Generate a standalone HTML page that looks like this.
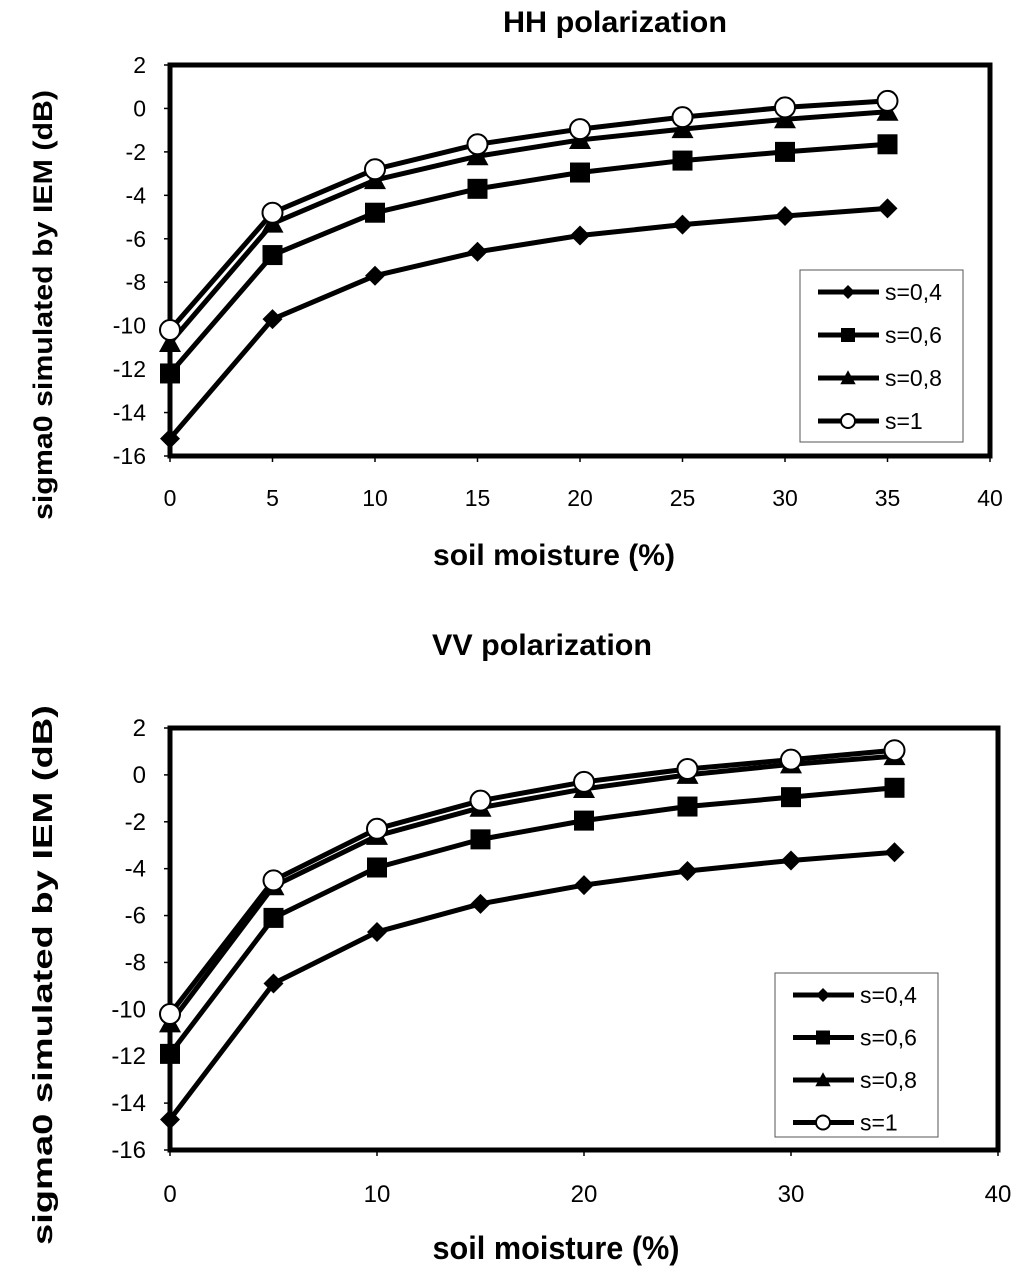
<!DOCTYPE html>
<html><head><meta charset="utf-8"><style>
body{margin:0;background:#fff;}
svg{display:block;font-family:"Liberation Sans",Arial,sans-serif;}
</style></head><body>
<svg id="svg" width="1024" height="1273" viewBox="0 0 1024 1273"></svg>
<script>
const xValues=[0,5,10,15,20,25,30,35];
const seriesNames=["s=0,4","s=0,6","s=0,8","s=1"];
const hhS04=[-15.2,-9.7,-7.7,-6.6,-5.85,-5.35,-4.95,-4.6];
const hhS06=[-12.2,-6.75,-4.8,-3.7,-2.95,-2.4,-2.0,-1.65];
const hhS08=[-10.8,-5.3,-3.3,-2.2,-1.45,-0.95,-0.5,-0.15];
const hhS1=[-10.2,-4.8,-2.8,-1.65,-0.95,-0.4,0.05,0.35];
const vvS04=[-14.7,-8.9,-6.7,-5.5,-4.7,-4.1,-3.65,-3.3];
const vvS06=[-11.9,-6.1,-3.95,-2.75,-1.95,-1.35,-0.95,-0.55];
const vvS08=[-10.6,-4.75,-2.6,-1.4,-0.6,0.0,0.45,0.8];
const vvS1=[-10.2,-4.5,-2.3,-1.1,-0.3,0.25,0.65,1.05];
const yTicks=[2,0,-2,-4,-6,-8,-10,-12,-14,-16];
const hhXTicks=[0,5,10,15,20,25,30,35,40];
const vvXTicks=[0,10,20,30,40];
const markers=["diamond","square","triangle","circle"];

const NS="http://www.w3.org/2000/svg";
const svg=document.getElementById('svg');
function mk(tag,attrs,parent,text){const e=document.createElementNS(NS,tag);for(const k in attrs)e.setAttribute(k,attrs[k]);if(text!==undefined)e.textContent=text;(parent||svg).appendChild(e);return e;}

function marker(g,type,x,y,s){
  let e;
  if(type==="diamond")e=mk('polygon',{points:`${x},${y-10*s} ${x+10*s},${y} ${x},${y+10*s} ${x-10*s},${y}`,fill:'#000'},g);
  else if(type==="square")e=mk('rect',{x:x-10*s,y:y-10*s,width:20*s,height:20*s,fill:'#000'},g);
  else if(type==="triangle")e=mk('polygon',{points:`${x},${y-11*s} ${x+11*s},${y+9*s} ${x-11*s},${y+9*s}`,fill:'#000'},g);
  else e=mk('circle',{cx:x,cy:y,r:10*s,fill:'#fff',stroke:'#000','stroke-width':2},g);
  
  
}

function chart(cfg){
  const g=mk('g',{});
  
  
  const sx=v=>cfg.x0+(v-0)/(40-0)*(cfg.x1-cfg.x0);
  const sy=v=>cfg.y0+(2-v)/(2-(-16))*(cfg.y1-cfg.y0);
  const t=mk('text',{x:cfg.titleX-cfg.titleW/2,y:cfg.titleY,'font-size':cfg.titleF,'font-weight':'bold',textLength:cfg.titleW,lengthAdjust:'spacingAndGlyphs'},g,cfg.title);
  
  const box=mk('rect',{x:sx(0),y:sy(2),width:sx(40)-sx(0),height:sy(-16)-sy(2),fill:'none',stroke:'#000','stroke-width':5},g);
  
  yTicks.forEach(v=>{
    mk('line',{x1:sx(0)-6,x2:sx(0),y1:sy(v),y2:sy(v),stroke:'#000','stroke-width':1.5},g);
    const l=mk('text',{x:sx(0)-24,y:sy(v)+8,'font-size':cfg.tickF,'text-anchor':'end'},g,String(v));
    
  });
  cfg.xTicks.forEach(v=>{
    mk('line',{x1:sx(v),x2:sx(v),y1:sy(-16),y2:sy(-16)+6,stroke:'#000','stroke-width':1.5},g);
    const l=mk('text',{x:sx(v),y:cfg.xTickY,'font-size':cfg.tickF,'text-anchor':'middle'},g,String(v));
    
  });
  const xt=mk('text',{x:cfg.xTitleX-cfg.xTitleW/2,y:cfg.xTitleY,'font-size':cfg.xTitleF,'font-weight':'bold',textLength:cfg.xTitleW,lengthAdjust:'spacingAndGlyphs'},g,'soil moisture (%)');
  
  const yt=mk('text',{x:-cfg.yTitleW/2,y:0,'font-size':cfg.yTitleF,'font-weight':'bold',textLength:cfg.yTitleW,lengthAdjust:'spacingAndGlyphs',transform:`translate(${cfg.yTitleX},${cfg.yTitleY}) rotate(-90)`},g,'sigma0 simulated by IEM (dB)');
  
  cfg.series.forEach((vals,i)=>{
    const sg=mk('g',{},g);
    
    
    const pl=mk('polyline',{points:vals.map((v,j)=>sx(xValues[j])+','+sy(v)).join(' '),fill:'none',stroke:'#000','stroke-width':5,'stroke-linejoin':'round'},sg);
    
    vals.forEach((v,j)=>marker(sg,markers[i],sx(xValues[j]),sy(v),1));
  });
  const lg=mk('g',{},g);
  
  mk('rect',{x:cfg.lx,y:cfg.ly,width:163,height:cfg.lh,fill:'#fff',stroke:'#555','stroke-width':1},lg);
  seriesNames.forEach((n,i)=>{
    const e=mk('g',{},lg);
    
    const y=cfg.ly+22+i*cfg.lstep;
    mk('line',{x1:cfg.lx+18,x2:cfg.lx+79,y1:y,y2:y,stroke:'#000','stroke-width':5},e);
    marker(e,markers[i],cfg.lx+48,y,0.7);
    mk('text',{x:cfg.lx+85,y:y+8,'font-size':23},e,n);
  });
}

chart({name:'hh-chart',title:'HH polarization',titleX:615,titleY:32,titleW:224,titleF:30,x0:170,x1:990,y0:65,y1:456,xTicks:hhXTicks,xTickY:506,tickF:23,
  xTitleX:554,xTitleY:565,xTitleW:242,xTitleF:30,yTitleX:52,yTitleY:305,yTitleW:430,yTitleF:27,
  series:[hhS04,hhS06,hhS08,hhS1],lx:800,ly:270,lh:172,lstep:43});
chart({name:'vv-chart',title:'VV polarization',titleX:542,titleY:655,titleW:220,titleF:30,x0:170,x1:998,y0:728,y1:1150,xTicks:vvXTicks,xTickY:1202,tickF:24,
  xTitleX:556,xTitleY:1259,xTitleW:247,xTitleF:32,yTitleX:52,yTitleY:975,yTitleW:540,yTitleF:28,
  series:[vvS04,vvS06,vvS08,vvS1],lx:775,ly:973,lh:164,lstep:42.5});
</script>
</body></html>
